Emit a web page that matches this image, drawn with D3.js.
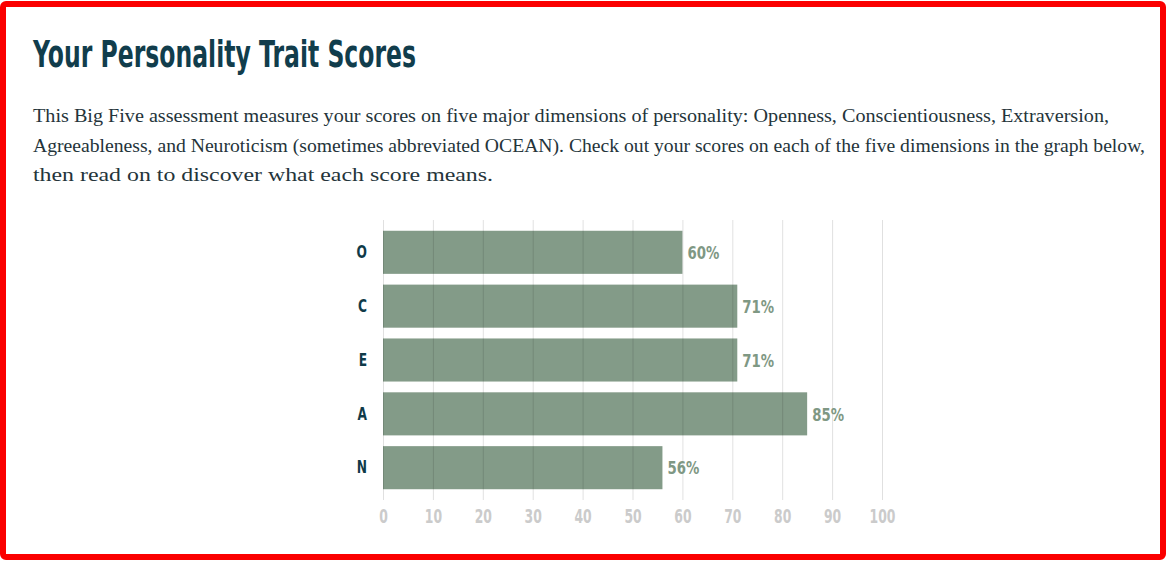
<!DOCTYPE html>
<html>
<head>
<meta charset="utf-8">
<script src="https://cdn.jsdelivr.net/npm/d3@7"></script>
<style>
  html, body { margin: 0; padding: 0; background: #fff; }
  svg { display: block; }
  .cond { font-family: "DejaVu Sans", "Liberation Sans", sans-serif; }
</style>
</head>
<body>
<svg id="chart" width="1166" height="562"></svg>
<script>
const title = "Your Personality Trait Scores";
const introLines = [
  "This Big Five assessment measures your scores on five major dimensions of personality: Openness, Conscientiousness, Extraversion,",
  "Agreeableness, and Neuroticism (sometimes abbreviated OCEAN). Check out your scores on each of the five dimensions in the graph below,",
  "then read on to discover what each score means."
];
const categories = ["O", "C", "E", "A", "N"];
const scores = [60, 71, 71, 85, 56];
const tickValues = [0, 10, 20, 30, 40, 50, 60, 70, 80, 90, 100];

const svg = d3.select("#chart");

// red frame
svg.append("rect")
  .attr("x", 3).attr("y", 4).attr("width", 1160).attr("height", 553)
  .attr("rx", 3)
  .attr("fill", "none").attr("stroke", "#fb0000").attr("stroke-width", 6);

// title
svg.append("text")
  .attr("class", "cond")
  .attr("x", 33).attr("y", 67)
  .attr("font-size", 38).attr("font-weight", 700)
  .attr("fill", "#113d4c")
  .attr("textLength", 383).attr("lengthAdjust", "spacingAndGlyphs")
  .text(title);

// intro paragraph
const lineWidths = [1076, 1112, 460];
svg.selectAll("text.intro").data(introLines).join("text")
  .attr("class", "intro")
  .attr("x", 33)
  .attr("y", (d, i) => 122 + i * 29.5)
  .attr("font-family", "'Liberation Serif', 'DejaVu Serif', serif")
  .attr("font-size", 19.5)
  .attr("fill", "#24343a")
  .attr("textLength", (d, i) => lineWidths[i])
  .attr("lengthAdjust", "spacingAndGlyphs")
  .text(d => d);

// scales
const x = d3.scaleLinear().domain([0, 100]).range([383, 882]);
const y = d3.scaleBand().domain(categories).range([220, 500]).paddingInner(0.2).paddingOuter(0.2);

const g = svg.append("g");

// bars
g.selectAll("rect.bar").data(categories).join("rect")
  .attr("class", "bar")
  .attr("x", x(0))
  .attr("y", d => y(d))
  .attr("width", (d, i) => x(scores[i]) - x(0))
  .attr("height", y.bandwidth())
  .attr("fill", "#839b88");

// gridlines (over bars, translucent)
const grid = g.append("g");
grid.selectAll("line").data(tickValues).join("line")
  .attr("x1", d => x(d) + 0.5).attr("x2", d => x(d) + 0.5)
  .attr("y1", 220).attr("y2", 500)
  .attr("stroke", "rgba(0,0,0,0.12)").attr("stroke-width", 1);

// x axis tick labels
const xAxis = d3.axisBottom(x).tickValues(tickValues).tickSize(0).tickPadding(0);
const ax = g.append("g").attr("transform", "translate(0,523)").call(xAxis);
ax.select(".domain").remove();
ax.selectAll("text")
  .attr("class", "cond")
  .attr("y", 0)
  .attr("dy", 0)
  .attr("transform", "scale(0.62,1)")
  .attr("font-size", 20)
  .attr("font-weight", 700)
  .attr("fill", "#cbcbcb");

// y axis category labels
const yAxis = d3.axisLeft(y).tickSize(0).tickPadding(0);
const ay = g.append("g").attr("transform", "translate(367,0)").call(yAxis);
ay.select(".domain").remove();
ay.selectAll("text")
  .attr("class", "cond")
  .attr("x", 0)
  .attr("transform", "scale(0.68,1)")
  .attr("font-size", 18)
  .attr("font-weight", 700)
  .attr("fill", "#0f3a48");

// value labels
g.selectAll("text.val").data(categories).join("text")
  .attr("class", "val cond")
  .attr("transform", (d, i) => `translate(${x(scores[i]) + 5},${y(d) + y.bandwidth() / 2}) scale(0.72,1)`)
  .attr("dy", "0.36em")
  .attr("font-size", 18.5)
  .attr("font-weight", 700)
  .attr("fill", "#7f9884")
  .text((d, i) => scores[i] + "%");
</script>
</body>
</html>
